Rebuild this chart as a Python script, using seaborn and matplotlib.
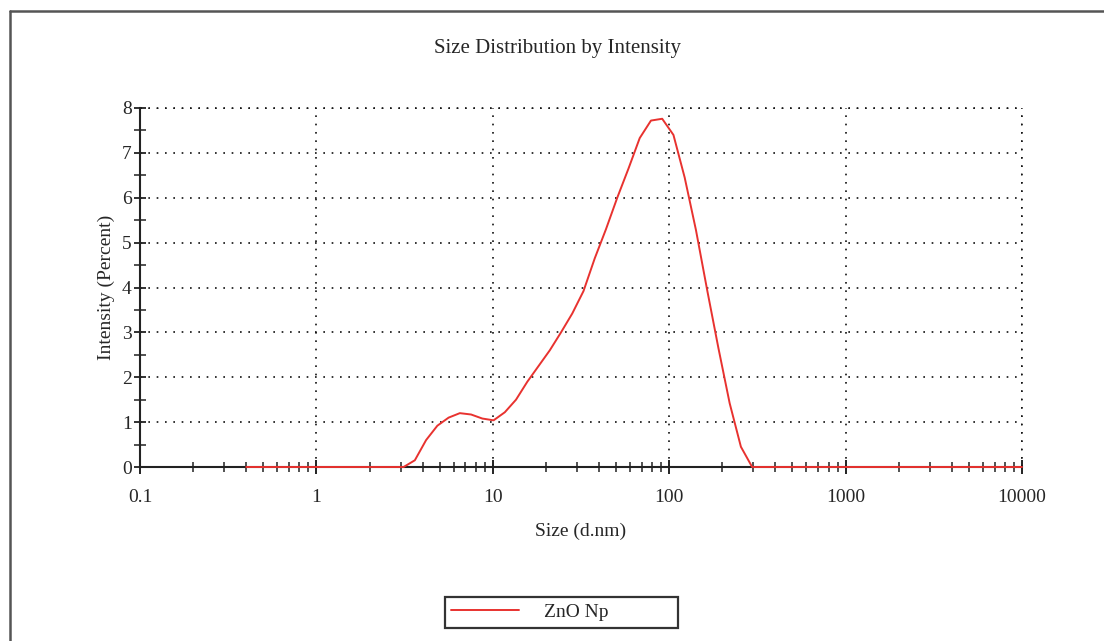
import matplotlib
matplotlib.use("Agg")
import matplotlib.pyplot as plt
import seaborn as sns
import pandas as pd
from matplotlib.lines import Line2D
from matplotlib.patches import Rectangle
from matplotlib.ticker import LogLocator, FixedLocator, NullFormatter

# Size bins (d.nm) and intensity (%)
sizes = [0.4, 0.4632, 0.5365, 0.6213, 0.7195, 0.8332, 0.9649, 1.117, 1.294, 1.499,
         1.736, 2.01, 2.328, 2.696, 3.122, 3.615, 4.187, 4.849, 5.615, 6.503,
         7.531, 8.721, 10.1, 11.7, 13.54, 15.69, 18.17, 21.04, 24.36, 28.21,
         32.67, 37.84, 43.82, 50.75, 58.77, 68.06, 78.82, 91.28, 105.7, 122.4,
         141.8, 164.2, 190.1, 220.2, 255.0, 295.3, 342.0, 396.1, 458.7, 531.2,
         615.1, 712.4, 825.0, 955.4, 1106, 1281, 1484, 1718, 1990, 2305,
         2669, 3091, 3580, 4145, 4801, 5560, 6439, 7456, 8635, 10000]
intensity = [0, 0, 0, 0, 0, 0, 0, 0, 0, 0,
             0, 0, 0, 0, 0, 0.15, 0.6, 0.92, 1.1, 1.2,
             1.17, 1.08, 1.04, 1.22, 1.5, 1.9, 2.25, 2.6, 3.0, 3.42,
             3.92, 4.65, 5.3, 6.0, 6.65, 7.33, 7.72, 7.76, 7.4, 6.45,
             5.28, 3.94, 2.65, 1.42, 0.45, 0, 0, 0, 0, 0,
             0, 0, 0, 0, 0, 0, 0, 0, 0, 0,
             0, 0, 0, 0, 0, 0, 0, 0, 0, 0]
series_name = "ZnO Np"
xtick_vals = [0.1, 1, 10, 100, 1000, 10000]
xtick_labels = ["0.1", "1", "10", "100", "1000", "10000"]
ytick_vals = [0, 1, 2, 3, 4, 5, 6, 7, 8]

df = pd.DataFrame({"Size": sizes, "Intensity": intensity, "Sample": series_name})

sns.set_style("white")
plt.rcParams['font.family'] = ['Liberation Serif', 'DejaVu Serif']

RED = "#e8322f"
FS = 14

fig = plt.figure(figsize=(11.04, 6.41), dpi=100)
ax = fig.add_axes([140/1104, 1 - 467/641, (1022-140)/1104, (467-108)/641])

sns.lineplot(data=df, x="Size", y="Intensity", hue="Sample", palette=[RED],
             linewidth=1.4, ax=ax, legend=False, zorder=3)
for ln in ax.lines:
    ln.set_clip_on(False)

ax.set_xscale("log")
ax.set_xlim(0.1, 10000)
ax.set_ylim(0, 8)

ax.xaxis.set_major_locator(FixedLocator(xtick_vals))
ax.set_xticklabels(xtick_labels)
ax.xaxis.set_minor_locator(LogLocator(base=10, subs=[2, 3, 4, 5, 6, 7, 8, 9], numticks=20))
ax.xaxis.set_minor_formatter(NullFormatter())
ax.set_yticks(ytick_vals)
ax.set_yticks([v + 0.5 for v in ytick_vals[:-1]], minor=True)

for s in ["top", "right"]:
    ax.spines[s].set_visible(False)
for s in ["left", "bottom"]:
    ax.spines[s].set_color("#222222")
    ax.spines[s].set_linewidth(1.5)

ax.tick_params(which="both", bottom=True, left=True, top=False, right=False)
ax.tick_params(axis="x", which="major", direction="inout", length=10, width=1.4,
               color="#222222", labelsize=FS, pad=11)
ax.tick_params(axis="x", which="minor", direction="inout", length=7, width=1.1,
               color="#222222")
ax.tick_params(axis="y", which="major", direction="inout", length=8, width=1.3,
               color="#222222", labelsize=FS, pad=2)
ax.tick_params(axis="y", which="minor", direction="inout", length=8, width=1.1,
               color="#222222")

ax.grid(True, which="major", axis="both", color="#111111", linestyle=(0, (1, 4)),
        linewidth=1.2)
# edge gridlines at the far right and top
ax.axvline(10000, color="#111111", linestyle=(0, (1, 4)), linewidth=1.2, clip_on=False)
ax.axhline(8, color="#111111", linestyle=(0, (1, 4)), linewidth=1.2, clip_on=False)

ax.set_xlabel("Size (d.nm)", fontsize=FS, labelpad=12)
ax.set_ylabel("Intensity (Percent)", fontsize=FS, labelpad=5)

fig.text(558/1104, 1 - 48/641, "Size Distribution by Intensity", ha="center",
         va="center", fontsize=15)

# legend: handle and label, framed by a box
handle = Line2D([0], [0], color=RED, linewidth=1.4)
leg = fig.legend([handle], [series_name], loc="center left",
                 bbox_to_anchor=(447/1104, 1 - 612/641),
                 frameon=False, fontsize=FS,
                 handlelength=3.5, handletextpad=1.3, borderpad=0.2,
                 borderaxespad=0)
fig.add_artist(Rectangle((445/1104, 1 - 628/641), (678-445)/1104, (628-597)/641,
                         transform=fig.transFigure, fill=False,
                         edgecolor="#333333", linewidth=1.6))

# outer frame (left and top edges visible)
fig.add_artist(Line2D([10/1104, 10/1104], [0, 1 - 11/641], transform=fig.transFigure,
                      color="#555555", linewidth=1.8))
fig.add_artist(Line2D([10/1104, 1], [1 - 11/641, 1 - 11/641], transform=fig.transFigure,
                      color="#555555", linewidth=1.8))

fig.savefig("out.png", dpi=100, facecolor="white")
